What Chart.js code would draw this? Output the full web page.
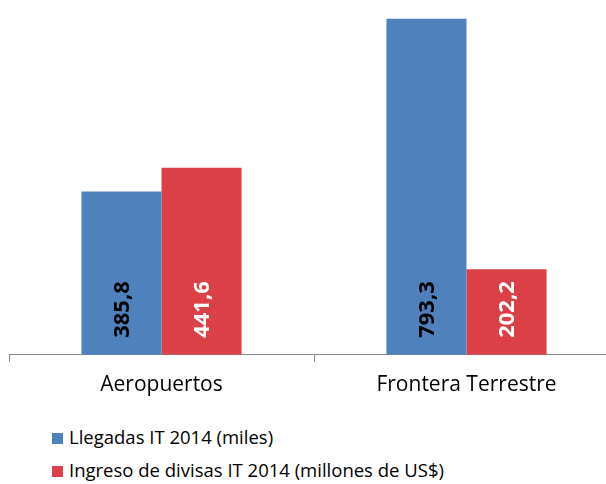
<!DOCTYPE html>
<html>
<head>
<meta charset="utf-8">
<script src="https://cdn.jsdelivr.net/npm/chart.js@4"></script>
<style>
  html, body { margin: 0; padding: 0; background: #fff; overflow: hidden; }
  #wrap { position: relative; width: 625px; height: 409px; }
  #legend { position: absolute; left: 52px; top: 423px; font-family: "Open Sans", sans-serif; font-size: 18.5px; color: #000; }
  #legend div { height: 33px; line-height: 28px; white-space: nowrap; }
  #legend span { display: inline-block; width: 11px; height: 11px; margin-right: 6px; vertical-align: 0px; }
</style>
</head>
<body>
<div id="wrap"><canvas id="myChart"></canvas></div>
<div id="legend"></div>
<script>
// categorias y series
const categorias = ['Aeropuertos', 'Frontera Terrestre'];
const llegadas = [385.8, 793.3];
const ingresos = [441.6, 202.2];
const series = ['Llegadas IT 2014 (miles)', 'Ingreso de divisas IT 2014 (millones de US$)'];
const colores = ['#4F81BD', '#DC4047'];
const coloresEtiqueta = ['#000000', '#ffffff'];

const FONT = '"Open Sans", sans-serif';

// etiquetas verticales dentro de las barras
const etiquetasBarras = {
    id: 'etiquetasBarras',
    afterDatasetsDraw(chart) {
        const ctx = chart.ctx;
        chart.data.datasets.forEach((ds, i) => {
            const meta = chart.getDatasetMeta(i);
            meta.data.forEach((bar, j) => {
                const txt = ds.data[j].toFixed(1).replace('.', ',');
                ctx.save();
                ctx.translate(bar.x, bar.base - 17);
                ctx.rotate(-Math.PI / 2);
                ctx.font = 'bold 22px ' + FONT;
                ctx.fillStyle = coloresEtiqueta[i];
                ctx.textAlign = 'left';
                ctx.textBaseline = 'middle';
                ctx.fillText(txt, 0, 1);
                ctx.restore();
            });
        });
    }
};

const ctx = document.getElementById('myChart').getContext('2d');
const myChart = new Chart(ctx, {
    type: 'bar',
    data: {
        labels: categorias,
        datasets: [
            { label: series[0], data: llegadas, backgroundColor: colores[0] },
            { label: series[1], data: ingresos, backgroundColor: colores[1] }
        ]
    },
    options: {
        responsive: true,
        maintainAspectRatio: false,
        animation: false,
        layout: { padding: { left: 9, right: 6, top: 16, bottom: 0 } },
        datasets: { bar: { barPercentage: 1, categoryPercentage: 0.525 } },
        scales: {
            x: {
                grid: { drawOnChartArea: false, tickLength: 7, color: '#888888' },
                border: { color: '#888888' },
                ticks: { font: { size: 21, family: FONT }, color: '#000', padding: 11 }
            },
            y: { display: false, min: 0, max: 800 }
        },
        plugins: {
            legend: { display: false },
            tooltip: { enabled: false }
        }
    },
    plugins: [etiquetasBarras]
});

// leyenda vertical
const leyenda = document.getElementById('legend');
series.forEach((s, i) => {
    const d = document.createElement('div');
    d.innerHTML = '<span style="background:' + colores[i] + '"></span>' + s;
    leyenda.appendChild(d);
});
</script>
</body>
</html>
